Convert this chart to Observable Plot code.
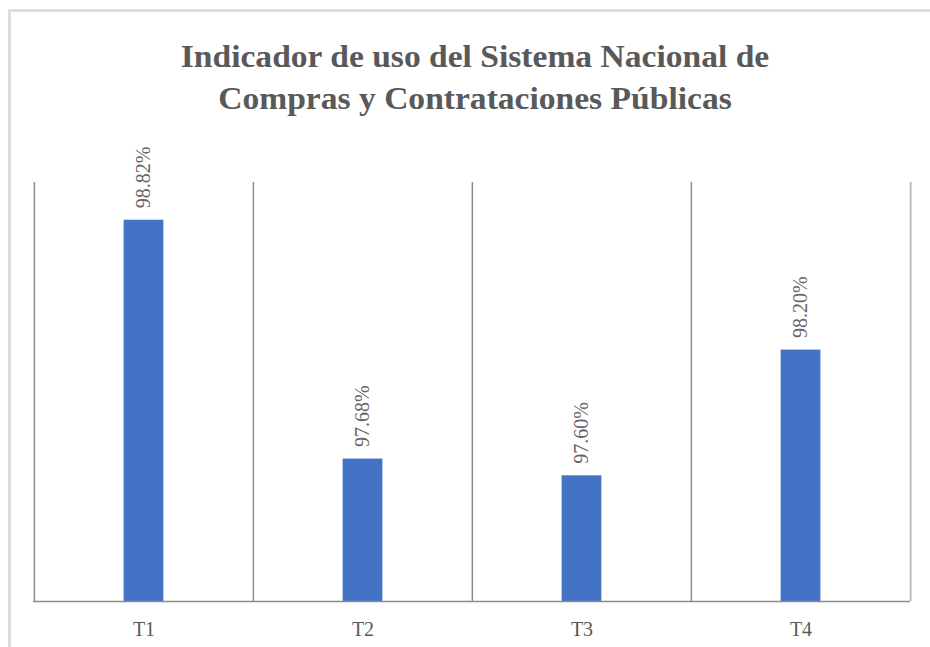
<!DOCTYPE html>
<html><head><meta charset="utf-8">
<script src="https://cdn.jsdelivr.net/npm/d3@7"></script>
<script src="https://cdn.jsdelivr.net/npm/@observablehq/plot@0.6"></script>
<style>
body{margin:0;background:#fff;}
#wrap{position:relative;width:930px;height:647px;overflow:hidden;background:#fff;}
#frame{position:absolute;left:8px;top:9px;width:1000px;height:1000px;border-top:3px solid #dedede;border-left:3px solid #dedede;}
#title{position:absolute;left:0;top:36px;width:950px;text-align:center;font-family:"Times New Roman","Liberation Serif","DejaVu Serif",serif;font-weight:bold;font-size:30.5px;line-height:42px;color:#595959;transform:scaleX(1.1);transform-origin:475px 0;}
#chart{position:absolute;left:0;top:0;}
</style></head><body>
<div id="wrap"><div id="frame"></div><div id="title">Indicador de uso del Sistema Nacional de<br>Compras y Contrataciones Públicas</div><div id="chart"></div></div>
<script>
const categories = ["T1","T2","T3","T4"];
const values = [98.82, 97.68, 97.60, 98.20];
const valueLabels = ["98.82%","97.68%","97.60%","98.20%"];
const yDomain = [97, 99];

const data = categories.map((c,i)=>({cat:c, value:values[i], label:valueLabels[i]}));
const W=930, H=647, mL=33, mR=20;
const bw = (W-mL-mR)/categories.length;
const barW = 40;
const plot = Plot.plot({
  width:W, height:H, marginTop:182, marginBottom:46, marginLeft:mL, marginRight:mR,
  style:{fontFamily:"'Times New Roman', 'Liberation Serif', 'DejaVu Serif', serif", fontSize:"20px", color:"#595959", background:"transparent"},
  x:{domain:categories, padding:0, label:null, tickSize:0, tickPadding:20},
  y:{domain:yDomain, axis:null},
  marks:[
    Plot.ruleX(categories,{x:d=>d, dx:-bw/2, stroke:"#8c8c8c", strokeWidth:1.5}),
    Plot.ruleX([categories[categories.length-1]],{x:d=>d, dx:bw/2, stroke:"#bdbdbd", strokeWidth:2}),
    Plot.barY(data,{x:"cat", y1:yDomain[0], y2:"value", fill:"#4472C4", insetLeft:(bw-barW)/2, insetRight:(bw-barW)/2}),
    Plot.ruleY([yDomain[0]],{stroke:"#8c8c8c", strokeWidth:1.5}),
    Plot.text(data,{x:"cat", y:"value", text:"label", rotate:-90, textAnchor:"start", dy:-12, fill:"#666666", fontSize:20})
  ]
});
document.getElementById("chart").appendChild(plot);
</script>
</body></html>
